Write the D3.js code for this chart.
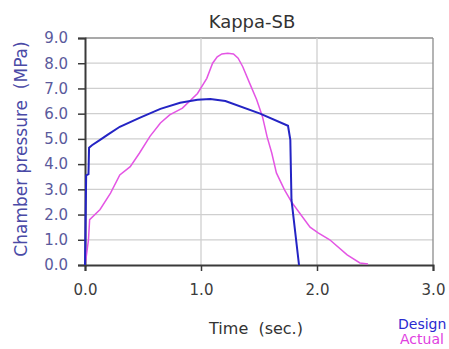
<!DOCTYPE html>
<html>
<head>
<meta charset="utf-8">
<script src="https://cdn.jsdelivr.net/npm/d3@7"></script>
<style>
  body { margin: 0; background: #fff; }
  svg { display: block; font-family: "DejaVu Sans", sans-serif; }
</style>
</head>
<body>
<script>
// chart values
var chartTitle = "Kappa-SB";
var xTicks = [0, 1, 2, 3];
var yTicks = [0, 1, 2, 3, 4, 5, 6, 7, 8, 9];
var seriesNames = ["Design", "Actual"];

var designTime = [0, 0.01, 0.03, 0.035, 0.06, 0.13, 0.20, 0.30, 0.47, 0.65, 0.82, 0.97, 1.08, 1.21, 1.51, 1.75, 1.77, 1.78, 1.845];
var designPressure = [0, 3.55, 3.6, 4.65, 4.75, 4.96, 5.18, 5.48, 5.83, 6.19, 6.43, 6.55, 6.58, 6.5, 6.0, 5.52, 4.96, 2.58, 0];

var actualTime = [0, 0.01, 0.03, 0.04, 0.13, 0.22, 0.30, 0.39, 0.47, 0.56, 0.65, 0.73, 0.84, 0.97, 1.05, 1.10, 1.14, 1.18, 1.23, 1.28, 1.32, 1.36, 1.42, 1.48, 1.53, 1.57, 1.61, 1.65, 1.72, 1.78, 1.85, 1.94, 2.01, 2.11, 2.26, 2.37, 2.44];
var actualPressure = [0, 0.3, 1.0, 1.8, 2.2, 2.85, 3.57, 3.9, 4.44, 5.1, 5.63, 5.95, 6.22, 6.8, 7.4, 8.0, 8.25, 8.37, 8.4, 8.37, 8.2, 7.86, 7.2, 6.55, 5.88, 5.08, 4.44, 3.65, 2.98, 2.5, 2.06, 1.5, 1.27, 1.0, 0.4, 0.08, 0.04];

var width = 449, height = 349;
var plot = {left: 85, right: 433, top: 38, bottom: 265};

var svg = d3.select("body").append("svg")
    .attr("width", width)
    .attr("height", height);

var x = d3.scaleLinear().domain([0, 3]).range([plot.left, plot.right]),
    y = d3.scaleLinear().domain([0, 9]).range([plot.bottom, plot.top]);

// grid
svg.append("g")
    .selectAll("line")
    .data(yTicks.slice(1))
    .enter().append("line")
    .attr("x1", plot.left).attr("x2", plot.right)
    .attr("y1", function (d) { return y(d); })
    .attr("y2", function (d) { return y(d); })
    .attr("stroke", function (d) { return d === 9 ? "#8c8c8c" : "#cfcfcf"; })
    .attr("stroke-width", 1.3);

svg.append("g")
    .selectAll("line")
    .data(xTicks.slice(1))
    .enter().append("line")
    .attr("x1", function (d) { return x(d); })
    .attr("x2", function (d) { return x(d); })
    .attr("y1", plot.top).attr("y2", plot.bottom)
    .attr("stroke", function (d) { return d === 3 ? "#8c8c8c" : "#cfcfcf"; })
    .attr("stroke-width", 1.3);

// axes
var xAxis = svg.append("g")
    .attr("transform", "translate(0," + plot.bottom + ")")
    .call(d3.axisBottom(x).tickValues(xTicks).tickFormat(d3.format(".1f")).tickSize(6).tickPadding(13));
var yAxis = svg.append("g")
    .attr("transform", "translate(" + plot.left + ",0)")
    .call(d3.axisLeft(y).tickValues(yTicks).tickFormat(d3.format(".1f")).tickSize(7).tickPadding(10));

[xAxis, yAxis].forEach(function (a) {
    a.select(".domain").attr("stroke", "#3a3a3a").attr("stroke-width", 2);
    a.selectAll(".tick line").attr("stroke", "#3a3a3a").attr("stroke-width", 1.5);
    a.selectAll("text").attr("font-family", "DejaVu Sans, sans-serif").attr("font-size", 15);
});
xAxis.selectAll("text").attr("fill", "#3c3c3c");
yAxis.selectAll("text").attr("fill", "#5a5a9c");

// lines
var line = d3.line()
    .x(function (d) { return x(d[0]); })
    .y(function (d) { return y(d[1]); });

var actual = actualTime.map(function (t, i) { return [t, actualPressure[i]]; });
var design = designTime.map(function (t, i) { return [t, designPressure[i]]; });

svg.append("path")
    .datum(actual)
    .attr("fill", "none")
    .attr("stroke", "#e455e4")
    .attr("stroke-width", 1.5)
    .attr("d", line);

svg.append("path")
    .datum(design)
    .attr("fill", "none")
    .attr("stroke", "#2424c4")
    .attr("stroke-width", 2)
    .attr("d", line);

// titles
svg.append("text")
    .attr("x", 252).attr("y", 28)
    .attr("text-anchor", "middle")
    .attr("font-size", 18)
    .attr("fill", "#333")
    .text(chartTitle);

svg.append("text")
    .attr("transform", "translate(27,149) rotate(-90)")
    .attr("text-anchor", "middle")
    .attr("font-size", 17)
    .attr("fill", "#4a4aa6")
    .style("white-space", "pre")
    .text("Chamber pressure  (MPa)");

svg.append("text")
    .attr("x", 256).attr("y", 334)
    .attr("text-anchor", "middle")
    .attr("font-size", 16)
    .attr("fill", "#333")
    .style("white-space", "pre")
    .text("Time  (sec.)");

// legend
var legendColors = ["#2a2ad0", "#e040e0"];
svg.append("g")
    .selectAll("text")
    .data(seriesNames)
    .enter().append("text")
    .attr("x", function (d, i) { return i === 0 ? 398 : 400; })
    .attr("y", function (d, i) { return 329 + i * 15; })
    .attr("font-size", 14)
    .attr("fill", function (d, i) { return legendColors[i]; })
    .text(function (d) { return d; });
</script>
</body>
</html>
